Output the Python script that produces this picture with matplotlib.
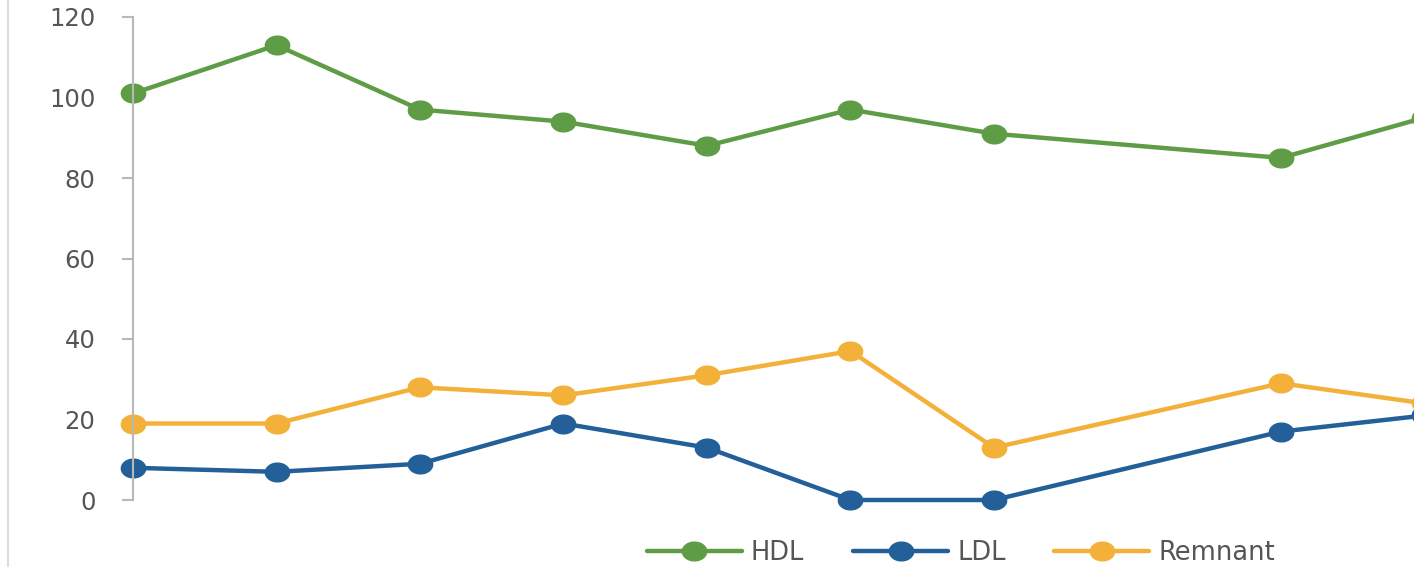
import numpy as np
import matplotlib.pyplot as plt
from matplotlib.lines import Line2D
from matplotlib.path import Path

plt.rcParams['font.family'] = ['DejaVu Sans']

# category positions (index 7 has no data, lines connect across it)
x = [0, 1, 2, 3, 4, 5, 6, 8, 9]
hdl = [101, 113, 97, 94, 88, 97, 91, 85, 95]
ldl = [8, 7, 9, 19, 13, 0, 0, 17, 21]
remnant = [19, 19, 28, 26, 31, 37, 13, 29, 24]

series = [
    ("HDL", hdl, "#5e9c46"),
    ("LDL", ldl, "#235f98"),
    ("Remnant", remnant, "#f3b13a"),
]

# slightly wide dot, the scan is stretched sideways
t = np.linspace(0, 2 * np.pi, 60)
dot = Path(np.column_stack([1.3 * np.cos(t), np.sin(t)]), closed=True)

fig = plt.figure(figsize=(14.14, 5.67), dpi=100)
ax = fig.add_axes([133 / 1414, 67 / 567, 1 - 133 / 1414, 483 / 567])

for name, vals, col in series:
    ax.plot(x, vals, color=col, lw=3.2, marker=dot, ms=17.5, label=name,
            clip_on=False, solid_capstyle='round')

ax.set_xlim(0, 1281 / 143.5)
ax.set_ylim(0, 120)
ax.set_yticks(np.arange(0, 121, 20))
ax.set_xticks([])

for s in ['top', 'right', 'bottom']:
    ax.spines[s].set_visible(False)
ax.spines['left'].set_color('#b8b8b8')
ax.spines['left'].set_linewidth(1.5)
ax.tick_params(axis='y', direction='out', length=8, width=1.5, color='#b8b8b8',
               pad=19, labelsize=17.5, labelcolor='#555555')

leg = fig.legend(loc='center', bbox_to_anchor=(961 / 1414, 14 / 567), ncol=3,
                 frameon=False, fontsize=18.5, handlelength=3.7, columnspacing=1.9,
                 handletextpad=0.35, labelcolor='#555555')

# faint scan border on the left
fig.add_artist(Line2D([8 / 1414, 8 / 1414], [0, 1], color='#dddddd', lw=1.5))

fig.savefig('out.png', dpi=100)
